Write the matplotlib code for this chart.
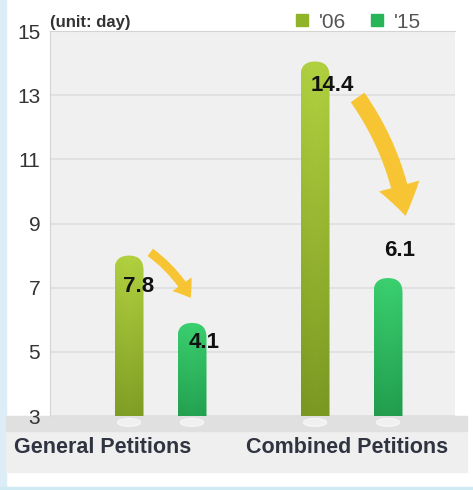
import numpy as np
import matplotlib.pyplot as plt
from matplotlib.patches import FancyBboxPatch, FancyArrowPatch, Rectangle, Ellipse
from matplotlib.lines import Line2D
from matplotlib.colors import LinearSegmentedColormap

# data
groups = ['General Petitions', 'Combined Petitions']
years = ["'06", "'15"]
days_06 = [7.8, 14.4]          # printed values
days_15 = [4.1, 6.1]
drawn_06 = [8.0, 14.05]        # bar tops as they are drawn in the picture
drawn_15 = [5.9, 7.3]
yticks = [3, 5, 7, 9, 11, 13, 15]

# layout
x_pos = [[0.79, 1.42], [2.65, 3.38]]
group_label_x = [0.53, 2.97]
bar_w = 0.29
label_off = [[(0.10, -0.95), (0.12, -0.6)], [(0.17, -0.75), (0.12, 0.85)]]
col_06 = ('#b2d140', '#6c8a1a')
col_15 = ('#3bd070', '#17883f')

fig = plt.figure(figsize=(4.73, 4.90), dpi=100)
fig.patch.set_facecolor('white')

# background decorations (figure coords), kept under the axes
deco = [((0, 0), 0.012, 1, '#dcedf7'),
        ((0.012, 1 - 472 / 490), 0.975, 42 / 490, '#efefef'),
        ((0.012, 1 - 431 / 490), 0.975, 15 / 490, '#e0e0e0'),
        ((0, 0), 1, 3 / 490, '#cfeaf2')]
for xy, w, h, c in deco:
    fig.patches.append(Rectangle(xy, w, h, transform=fig.transFigure,
                                 color=c, zorder=-5))

ax = fig.add_axes([50 / 473, 1 - 416 / 490, 405 / 473, 385 / 490])
ax.set_zorder(1)
ax.set_facecolor('#f0f0f0')
ax.set_xlim(0, 4.05)
ax.set_ylim(3, 15)
ax.set_yticks(yticks)
ax.set_yticklabels([str(t) for t in yticks], fontsize=15, color='#333333',
                   family='Liberation Sans')
ax.set_xticks([])
ax.tick_params(axis='y', length=0, pad=7)
ax.grid(axis='y', color='#dedede', lw=1.2)
ax.set_axisbelow(True)
for s in ['right', 'bottom']:
    ax.spines[s].set_visible(False)
for s in ['left', 'top']:
    ax.spines[s].set_color('#d4d4d4')

# y data units per x data unit in pixels -> keep rounded tops circular
aspect = (12 / 385) / (4.05 / 405)


def grad_bar(x, top, colors):
    patch = FancyBboxPatch((x - bar_w / 2, 2.0), bar_w, top - 2.0,
                           boxstyle='round,pad=0,rounding_size=%f' % (bar_w / 2),
                           mutation_aspect=aspect, lw=0, fc='none')
    ax.add_patch(patch)
    cmap = LinearSegmentedColormap.from_list('g', [colors[1], colors[0]])
    g = np.linspace(0, 1, 200).reshape(-1, 1)
    h = np.linspace(0.75, 1.0, 40).reshape(1, -1)
    h = np.concatenate([h, h[:, ::-1]], axis=1)
    img = ax.imshow(g * 0.85 + 0.15 * h, cmap=cmap, origin='lower', aspect='auto',
                    extent=(x - bar_w / 2, x + bar_w / 2, 2.0, top),
                    vmin=0, vmax=1, zorder=3)
    img.set_clip_path(patch)
    # reflection on the floor
    ax.add_patch(Ellipse((x, 2.8), bar_w * 0.8, 0.25, color='white', alpha=0.55,
                         clip_on=False, zorder=2))


for i in range(len(groups)):
    grad_bar(x_pos[i][0], drawn_06[i], col_06)
    grad_bar(x_pos[i][1], drawn_15[i], col_15)
    for j, (top, val) in enumerate([(drawn_06[i], days_06[i]), (drawn_15[i], days_15[i])]):
        dx, dy = label_off[i][j]
        ax.text(x_pos[i][j] + dx, top + dy, '%.1f' % val, ha='center', va='center',
                fontsize=16, fontweight='bold', color='#111111',
                family='Liberation Sans', zorder=6)
    ax.text(group_label_x[i], 2.03, groups[i], ha='center', va='center',
            fontsize=15.5, fontweight='bold', color='#2f3440',
            family='Liberation Sans', clip_on=False)

# curved arrows showing the drop
arrows = [((0.98, 8.15), (1.42, 6.6), 'simple,head_width=1.3,head_length=0.9,tail_width=0.5', 13, -0.12),
          ((3.06, 13.0), (3.56, 9.15), 'simple,head_width=1.5,head_length=1.1,tail_width=0.6', 20, -0.12)]
for start, end, style, ms, rad in arrows:
    arr = FancyArrowPatch(start, end, arrowstyle=style, mutation_scale=ms,
                          connectionstyle='arc3,rad=%f' % rad, lw=0, fc='#f8c01a',
                          alpha=0.88, zorder=5)
    ax.add_patch(arr)

# header: unit and legend
fig.text(50 / 473, 1 - 22 / 490, '(unit: day)', fontsize=12, fontweight='bold',
         color='#333333', va='center', family='Liberation Sans')
handles = [Line2D([], [], ls='none', marker='s', ms=9, mfc='#8fb42a', mec='#8fb42a'),
           Line2D([], [], ls='none', marker='s', ms=9, mfc='#27b557', mec='#27b557')]
fig.legend(handles, years, loc='center right', bbox_to_anchor=(440 / 473, 1 - 22 / 490),
           ncol=2, frameon=False, labelcolor='#555555',
           handletextpad=0.3, columnspacing=1.0, handlelength=1.0,
           prop={'family': 'Liberation Sans', 'size': 15})

fig.savefig('out.png', dpi=100)
